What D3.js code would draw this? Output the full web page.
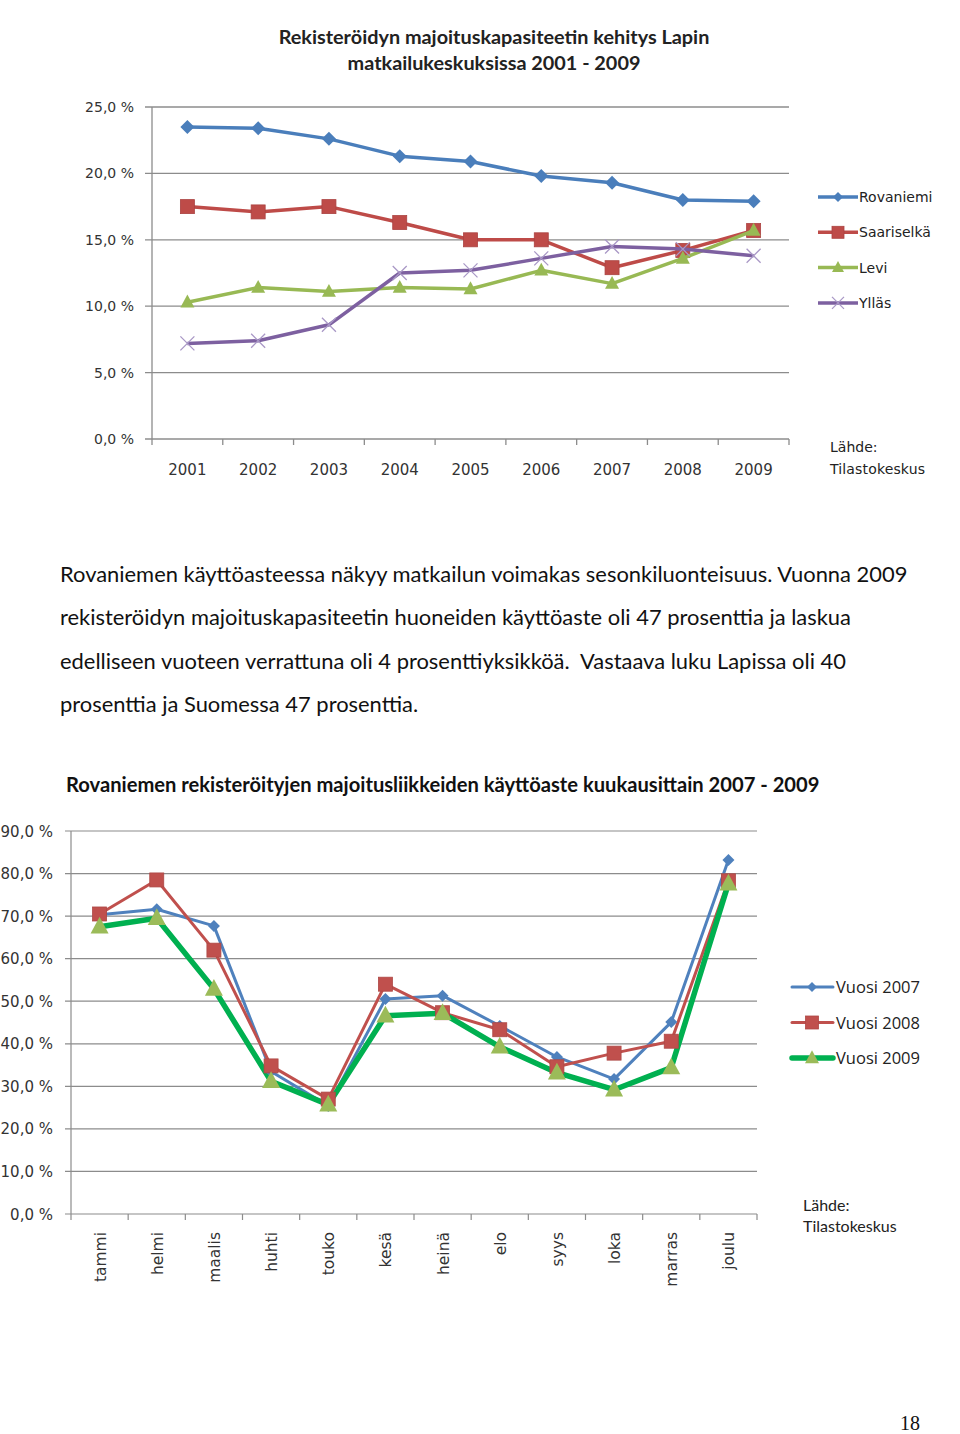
<!DOCTYPE html>
<html><head><meta charset="utf-8">
<script src="https://cdn.jsdelivr.net/npm/d3@7"></script>
<style>body{margin:0;background:#fff}svg{display:block}</style>
</head><body>
<svg id="s" width="960" height="1434"></svg>
<script>
// ---- Chart 1 data ----
const years = ["2001","2002","2003","2004","2005","2006","2007","2008","2009"];
const rovaniemi = [23.5,23.4,22.6,21.3,20.9,19.8,19.3,18.0,17.9];
const saariselka = [17.5,17.1,17.5,16.3,15.0,15.0,12.9,14.2,15.7];
const levi = [10.3,11.4,11.1,11.4,11.3,12.7,11.7,13.6,15.7];
const yllas = [7.2,7.4,8.6,12.5,12.7,13.6,14.5,14.3,13.8];
const ticks1 = [0,5,10,15,20,25];

// ---- Chart 2 data ----
const months = ["tammi","helmi","maalis","huhti","touko","kesä","heinä","elo","syys","loka","marras","joulu"];
const v2007 = [70.3,71.6,67.7,33.5,25.4,50.5,51.3,44.2,36.9,31.7,45.1,83.2];
const v2008 = [70.5,78.5,62.0,34.8,27.0,54.0,47.3,43.3,34.6,37.8,40.6,78.3];
const v2009 = [67.5,69.5,52.9,31.2,25.7,46.6,47.2,39.3,33.2,29.2,34.4,77.6];
const ticks2 = [0,10,20,30,40,50,60,70,80,90];

const svg = d3.select("#s");
const fmt = v => d3.format(".1f")(v).replace(".", ",") + " %";
const grid = "#8c8c8c";

// scale a text's font-size so that it spans a given width
function fitWidth(sel, width){
  const n = sel.node();
  const fs = parseFloat(sel.attr("font-size"));
  const w = n.getComputedTextLength();
  const nf = fs*width/w;
  sel.attr("font-size", nf);
  return nf;
}

// ================= Chart 1 =================
const g1 = svg.append("g");
const t1a = g1.append("text").attr("x",494).attr("y",44).attr("text-anchor","middle")
  .attr("font-family","Lato").attr("font-weight","bold").attr("font-size",17.5).attr("fill","#222")
  .text("Rekisteröidyn majoituskapasiteetin kehitys Lapin");
const f1 = fitWidth(t1a, 431);
g1.append("text").attr("x",494).attr("y",70).attr("text-anchor","middle")
  .attr("font-family","Lato").attr("font-weight","bold").attr("font-size",f1).attr("fill","#222")
  .text("matkailukeskuksissa 2001 - 2009");

const x1 = d3.scaleBand().domain(years).range([152,789]);
const y1 = d3.scaleLinear().domain([0,25]).range([439,107]);

g1.selectAll("line.grid").data(ticks1).join("line")
  .attr("x1",145).attr("x2",789).attr("y1",d=>y1(d)).attr("y2",d=>y1(d))
  .attr("stroke",grid).attr("stroke-width",1.3);
g1.append("line").attr("x1",152).attr("x2",152).attr("y1",107).attr("y2",439).attr("stroke",grid).attr("stroke-width",1.3);
const b1 = years.map(d=>x1(d)).concat([789]);
g1.selectAll("line.xt").data(b1).join("line")
  .attr("x1",d=>d).attr("x2",d=>d).attr("y1",439).attr("y2",445).attr("stroke",grid).attr("stroke-width",1.3);
g1.selectAll("text.yl").data(ticks1).join("text")
  .attr("x",134).attr("y",d=>y1(d)+5).attr("text-anchor","end")
  .attr("font-family","DejaVu Sans").attr("font-size",14).attr("fill","#333").text(fmt);
g1.selectAll("text.xl").data(years).join("text")
  .attr("x",d=>x1(d)+x1.bandwidth()/2).attr("y",475).attr("text-anchor","middle")
  .attr("font-family","DejaVu Sans").attr("font-size",15).attr("fill","#333").text(d=>d);

const series1 = [
  {name:"Rovaniemi", vals:rovaniemi, color:"#4A7EBB", marker:"diamond"},
  {name:"Saariselkä", vals:saariselka, color:"#BE4B48", marker:"square"},
  {name:"Levi", vals:levi, color:"#98B954", marker:"triangle"},
  {name:"Ylläs", vals:yllas, color:"#7D60A0", marker:"x"}
];
const cx1 = d => x1(d)+x1.bandwidth()/2;

function marker(g, type, x, y, size, fill){
  if(type==="diamond"){
    g.append("path").attr("d",`M${x},${y-size}L${x+size},${y}L${x},${y+size}L${x-size},${y}Z`).attr("fill",fill);
  } else if(type==="square"){
    g.append("rect").attr("x",x-size).attr("y",y-size).attr("width",2*size).attr("height",2*size).attr("fill",fill)
      .attr("stroke",d3.color(fill).darker(0.3)).attr("stroke-width",0.8);
  } else if(type==="triangle"){
    g.append("path").attr("d",`M${x},${y-size*1.1}L${x+size},${y+size*0.75}L${x-size},${y+size*0.75}Z`).attr("fill",fill);
  } else if(type==="x"){
    g.append("path").attr("d",`M${x-size},${y-size}L${x+size},${y+size}M${x-size},${y+size}L${x+size},${y-size}`)
      .attr("stroke",fill).attr("stroke-width",1.3).attr("fill","none");
  }
}

series1.forEach(s=>{
  const line = d3.line().x((v,i)=>cx1(years[i])).y(v=>y1(v));
  g1.append("path").attr("d",line(s.vals)).attr("fill","none").attr("stroke",s.color).attr("stroke-width",3.5).attr("stroke-linejoin","round");
  const mg = g1.append("g");
  const mc = s.marker==="x" ? "#A998C6" : s.color;
  s.vals.forEach((v,i)=>marker(mg,s.marker,cx1(years[i]),y1(v),7,mc));
});

// Legend 1
series1.forEach((s,i)=>{
  const yy = 197 + i*35.3;
  g1.append("line").attr("x1",818).attr("x2",858).attr("y1",yy).attr("y2",yy).attr("stroke",s.color).attr("stroke-width",3.5);
  const mg = g1.append("g");
  marker(mg,s.marker,838,yy,s.marker==="x"?6:(s.marker==="diamond"?5:6),s.marker==="x"?"#A998C6":s.color);
  g1.append("text").attr("x",859).attr("y",yy+5).attr("font-family","DejaVu Sans").attr("font-size",14).attr("fill","#222").text(s.name);
});
g1.append("text").attr("x",830).attr("y",452).attr("font-family","DejaVu Sans").attr("font-size",14).attr("fill","#222").text("Lähde:");
g1.append("text").attr("x",830).attr("y",474).attr("font-family","DejaVu Sans").attr("font-size",14).attr("fill","#222").attr("textLength",95).text("Tilastokeskus");

// ================= Body text =================
const para = [
  "Rovaniemen käyttöasteessa näkyy matkailun voimakas sesonkiluonteisuus. Vuonna 2009",
  "rekisteröidyn majoituskapasiteetin huoneiden käyttöaste oli 47 prosenttia ja laskua",
  "edelliseen vuoteen verrattuna oli 4 prosenttiyksikköä.  Vastaava luku Lapissa oli 40",
  "prosenttia ja Suomessa 47 prosenttia."
];
const paraSel = svg.selectAll("text.para").data(para).join("text")
  .attr("x",60).attr("y",(d,i)=>582+i*43.3).attr("font-family","Lato").attr("font-size",20.3).attr("fill","#111")
  .attr("xml:space","preserve").text(d=>d);
const pf = fitWidth(d3.select(paraSel.nodes()[0]), 847);
paraSel.attr("font-size", pf);

// ================= Chart 2 =================
const g2 = svg.append("g");
const t2 = g2.append("text").attr("x",66).attr("y",792).attr("font-family","Lato").attr("font-weight","bold").attr("font-size",18.6).attr("fill","#111")
  .text("Rovaniemen rekisteröityjen majoitusliikkeiden käyttöaste kuukausittain 2007 - 2009");
fitWidth(t2, 754);

const x2 = d3.scaleBand().domain(months).range([71,757]);
const y2 = d3.scaleLinear().domain([0,90]).range([1214,831]);
g2.selectAll("line.grid").data(ticks2).join("line")
  .attr("x1",65).attr("x2",757).attr("y1",d=>y2(d)).attr("y2",d=>y2(d)).attr("stroke",grid).attr("stroke-width",1.2);
g2.append("line").attr("x1",71).attr("x2",71).attr("y1",831).attr("y2",1214).attr("stroke",grid).attr("stroke-width",1.2);
const b2 = months.map(d=>x2(d)).concat([757]);
g2.selectAll("line.xt").data(b2).join("line")
  .attr("x1",d=>d).attr("x2",d=>d).attr("y1",1214).attr("y2",1220).attr("stroke",grid).attr("stroke-width",1.2);
g2.selectAll("text.yl").data(ticks2).join("text")
  .attr("x",53).attr("y",d=>y2(d)+5.5).attr("text-anchor","end")
  .attr("font-family","DejaVu Sans").attr("font-size",15).attr("fill","#333").text(fmt);
const cx2 = d => x2(d)+x2.bandwidth()/2;
g2.selectAll("text.xl").data(months).join("text")
  .attr("transform",d=>`translate(${cx2(d)+6},1232) rotate(-90)`).attr("text-anchor","end")
  .attr("font-family","DejaVu Sans").attr("font-size",15.5).attr("fill","#333").text(d=>d);

const series2 = [
  {name:"Vuosi 2007", vals:v2007, color:"#4F81BD", mfill:"#4F81BD", marker:"diamond", w:3, size:6},
  {name:"Vuosi 2008", vals:v2008, color:"#C0504D", mfill:"#C0504D", marker:"square", w:3, size:7},
  {name:"Vuosi 2009", vals:v2009, color:"#00B050", mfill:"#9BBB59", marker:"triangle", w:5.5, size:9}
];
series2.forEach(s=>{
  const line = d3.line().x((v,i)=>cx2(months[i])).y(v=>y2(v));
  g2.append("path").attr("d",line(s.vals)).attr("fill","none").attr("stroke",s.color).attr("stroke-width",s.w).attr("stroke-linejoin","round");
});
series2.forEach(s=>{
  const mg = g2.append("g");
  s.vals.forEach((v,i)=>marker(mg,s.marker,cx2(months[i]),y2(v),s.size,s.mfill));
});
series2.forEach((s,i)=>{
  const yy = 987 + i*35.5;
  g2.append("line").attr("x1",792).attr("x2",833).attr("y1",yy).attr("y2",yy).attr("stroke",s.color).attr("stroke-width",s.w).attr("stroke-linecap","round");
  const mg = g2.append("g");
  marker(mg,s.marker,812,yy,s.marker==="triangle"?7:(s.marker==="diamond"?5:6.5),s.mfill);
  g2.append("text").attr("x",836).attr("y",yy+6).attr("font-family","Open Sans").attr("font-size",16.5).attr("fill","#222").text(s.name);
});
g2.append("text").attr("x",803).attr("y",1211).attr("font-family","Lato").attr("font-size",16).attr("fill","#222").text("Lähde:");
g2.append("text").attr("x",803).attr("y",1232).attr("font-family","Lato").attr("font-size",16).attr("fill","#222").text("Tilastokeskus");

// page number
svg.append("text").attr("x",920).attr("y",1430).attr("text-anchor","end").attr("font-family","Liberation Serif").attr("font-size",20).attr("fill","#111").text("18");
</script>
</body></html>
